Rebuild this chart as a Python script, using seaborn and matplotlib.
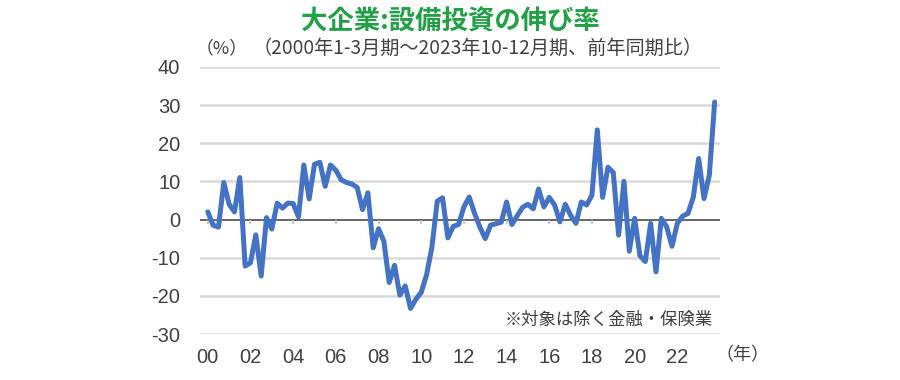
import numpy as np
import pandas as pd
import matplotlib
matplotlib.use("Agg")
import matplotlib.pyplot as plt
import seaborn as sns

# quarterly y/y growth, 2000 Q1 .. 2023 Q4 (%)
growth = [2.0, -1.5, -2.0, 9.7, 4.0, 2.0, 11.0, -12.2,
          -11.3, -4.0, -14.8, 0.5, -2.5, 4.3, 3.0, 4.3,
          4.2, 0.7, 14.3, 5.4, 14.5, 15.0, 8.7, 14.3,
          12.9, 10.4, 9.7, 9.3, 8.4, 2.6, 7.0, -7.4,
          -2.4, -5.7, -16.5, -12.0, -19.8, -17.4, -23.3, -20.9,
          -19.1, -14.5, -7.3, 4.8, 5.7, -4.8, -1.8, -1.3,
          3.3, 5.9, 1.6, -2.0, -5.0, -1.5, -1.1, -0.7,
          4.6, -1.3, 1.0, 3.2, 4.0, 2.8, 8.0, 3.3,
          5.8, 3.8, -0.6, 4.0, 1.1, -1.0, 4.6, 3.8,
          6.4, 23.5, 5.8, 13.7, 12.3, -4.1, 10.0, -8.3,
          0.3, -9.5, -11.0, -1.0, -13.7, 0.3, -1.9, -7.0,
          -1.0, 0.9, 1.6, 5.9, 16.0, 5.5, 11.6, 30.8]
year_labels = ["00", "02", "04", "06", "08", "10", "12", "14", "16", "18", "20", "22"]
y_ticks = [40, 30, 20, 10, 0, -10, -20, -30]

df = pd.DataFrame({"q": np.arange(len(growth)), "growth": growth})
tick_pos = [i * 8 for i in range(len(year_labels))]

sns.set_style("white")
plt.rcParams["font.family"] = ["Liberation Sans", "Noto Sans CJK JP", "DejaVu Sans"]
plt.rcParams["axes.unicode_minus"] = False
jp = ["Noto Sans CJK JP", "DejaVu Sans"]

fig = plt.figure(figsize=(9, 3.8), dpi=100)
ax = fig.add_axes([0.222, 0.121, 0.578, 0.703])

for v in y_ticks:
    if v != 0:
        ax.axhline(v, color="#d9d9d9", lw=1.8, zorder=0)
ax.axhline(0, color="#595959", lw=1.3, zorder=1)
ax.vlines(tick_pos, -1.2, 0, color="#bfbfbf", lw=1.2, zorder=1)

sns.lineplot(data=df, x="q", y="growth", ax=ax, color="#4472c4", lw=3.6, zorder=3)

ax.set_xlim(-1.5, 96)
ax.set_ylim(-30, 40)
ax.set_yticks(y_ticks)
ax.set_xticks(tick_pos)
ax.set_xticklabels(year_labels)
ax.tick_params(axis="both", length=0, labelsize=14.5, labelcolor="#404040")
ax.tick_params(axis="y", pad=14)
ax.tick_params(axis="x", pad=10)
ax.set_xlabel("")
ax.set_ylabel("")
for s in ax.spines.values():
    s.set_visible(False)

fig.text(0.5, 0.943, "大企業:設備投資の伸び率", ha="center", va="center",
         fontsize=19, fontweight="bold", color="#22a045", family=jp)
fig.text(0.217, 0.873, "（%）", ha="left", va="center", fontsize=12.8,
         color="#404040", family=jp)
fig.text(0.281, 0.873, "（2000年1-3月期～2023年10-12月期、前年同期比）", ha="left",
         va="center", fontsize=13.8, color="#404040", family=jp)
fig.text(0.792, 0.157, "※対象は除く金融・保険業", ha="right", va="center",
         fontsize=12.5, color="#404040", family=jp)
fig.text(0.795, 0.065, "（年）", ha="left", va="center", fontsize=13,
         color="#404040", family=jp)

fig.savefig("out.png", dpi=100)
